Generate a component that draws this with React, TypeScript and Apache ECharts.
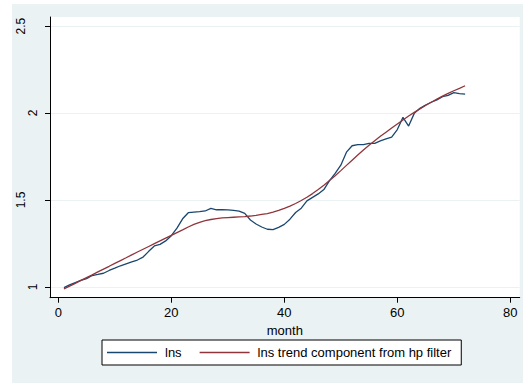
import React, { useEffect, useRef } from "react";
import * as echarts from "echarts";

const months: number[] = Array.from({ length: 72 }, (_, i) => i + 1);

const lns: number[] = [
  0.996, 1.012, 1.025, 1.038, 1.048, 1.066, 1.072, 1.079, 1.095, 1.108,
  1.122, 1.133, 1.144, 1.155, 1.172, 1.205, 1.236, 1.245, 1.265, 1.295,
  1.338, 1.392, 1.427, 1.43, 1.433, 1.437, 1.452, 1.444, 1.444, 1.443,
  1.44, 1.436, 1.423, 1.385, 1.362, 1.345, 1.332, 1.33, 1.343, 1.36,
  1.39, 1.428, 1.453, 1.495, 1.515, 1.535, 1.56, 1.612, 1.653, 1.7,
  1.775, 1.812, 1.818, 1.818, 1.826, 1.826, 1.84, 1.852, 1.862, 1.905,
  1.975, 1.925, 1.998, 2.027, 2.046, 2.062, 2.075, 2.094, 2.102, 2.117,
  2.112, 2.109,
];

const trend: number[] = [
  0.989, 1.005, 1.021, 1.038, 1.054, 1.07, 1.087, 1.103, 1.119, 1.136,
  1.152, 1.168, 1.185, 1.201, 1.217, 1.233, 1.249, 1.265, 1.281, 1.297,
  1.313, 1.328, 1.345, 1.36, 1.372, 1.381, 1.388, 1.393, 1.397, 1.399,
  1.401, 1.403, 1.405, 1.408, 1.412, 1.417, 1.422, 1.43, 1.44, 1.452,
  1.465, 1.48, 1.497, 1.516, 1.537, 1.56, 1.585, 1.612, 1.64, 1.669,
  1.699, 1.729, 1.759, 1.788, 1.815, 1.841, 1.866, 1.89, 1.914, 1.937,
  1.96, 1.983, 2.004, 2.024, 2.043, 2.062, 2.08, 2.097, 2.113, 2.128,
  2.142, 2.157,
];

const xTicks: number[] = [0, 20, 40, 60, 80];
const yTicks: number[] = [1, 1.5, 2, 2.5];

const seriesNames = ["lns", "lns trend component from hp filter"];
const FONT = "'Liberation Sans', Arial, sans-serif";
const BG = "#eaf2f3";

export default function App() {
  const ref = useRef<HTMLDivElement>(null);
  useEffect(() => {
    const chart = echarts.init(ref.current!, null, { renderer: "svg" });
    chart.setOption({
      animation: false,
      backgroundColor: BG,
      textStyle: { fontFamily: FONT },
      grid: {
        left: 38,
        top: 13,
        right: 3.3,
        bottom: 85.3,
        show: true,
        backgroundColor: "#ffffff",
        borderWidth: 0,
      },
      xAxis: {
        type: "value",
        min: -1.47,
        max: 81.66,
        name: "month",
        nameLocation: "middle",
        nameGap: 22,
        nameTextStyle: { fontSize: 13, color: "#000", fontFamily: FONT },
        axisLine: { show: true, onZero: false, lineStyle: { color: "#000", width: 1 } },
        axisTick: { show: true, customValues: xTicks, length: 5, lineStyle: { color: "#000" } },
        axisLabel: {
          customValues: xTicks,
          margin: 8,
          fontSize: 13,
          color: "#000",
          fontFamily: FONT,
        },
        splitLine: { show: false },
      },
      yAxis: {
        type: "value",
        min: 0.9385,
        max: 2.552,
        axisLine: { show: true, onZero: false, lineStyle: { color: "#000", width: 1 } },
        axisTick: { show: true, customValues: yTicks, length: 5, lineStyle: { color: "#000" } },
        axisLabel: {
          customValues: yTicks,
          rotate: 90,
          margin: 11,
          fontSize: 12,
          color: "#000",
          fontFamily: FONT,
          formatter: (v: number) => {
            const s = String(v);
            return s.length > 1 ? `{l|${s}}` : `{s|${s}}`;
          },
          rich: {
            l: { fontSize: 12, color: "#000", fontFamily: FONT, padding: [0, 0, 12, 0] },
            s: { fontSize: 12, color: "#000", fontFamily: FONT },
          },
        },
        splitLine: { show: true, lineStyle: { color: BG, width: 1 } },
      },
      legend: {
        data: seriesNames,
        left: 90,
        top: 336,
        orient: "horizontal",
        icon: "rect",
        itemWidth: 50,
        itemHeight: 1.5,
        itemGap: 18,
        backgroundColor: "#ffffff",
        borderColor: "#000",
        borderWidth: 1,
        borderRadius: 0,
        padding: [6, 10, 6, 5],
        textStyle: { fontSize: 13, color: "#000", fontFamily: FONT, padding: [0, 0, 0, 3] },
      },
      series: [
        {
          name: seriesNames[0],
          type: "line",
          symbol: "none",
          data: months.map((m, i) => [m, lns[i]]),
          lineStyle: { color: "#1a476f", width: 1.3 },
          itemStyle: { color: "#1a476f" },
        },
        {
          name: seriesNames[1],
          type: "line",
          symbol: "none",
          data: months.map((m, i) => [m, trend[i]]),
          lineStyle: { color: "#90353b", width: 1.3 },
          itemStyle: { color: "#90353b" },
        },
      ],
    });
    return () => chart.dispose();
  }, []);
  return (
    <div style={{ position: "absolute", left: 0, top: 0, width: 523, height: 383, background: "#ffffff" }}>
      <div
        ref={ref}
        style={{ position: "absolute", left: 12, top: 4, width: 511, height: 379, background: BG }}
      />
    </div>
  );
}
